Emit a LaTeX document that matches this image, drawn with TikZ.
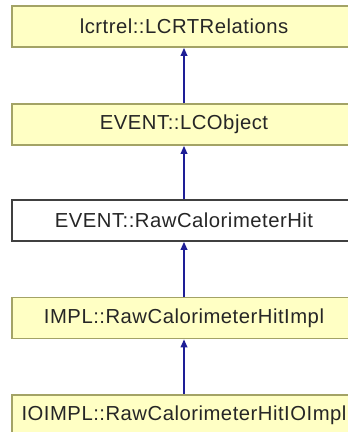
\documentclass[tikz,border=0pt]{standalone}
\usepackage{fontspec}
\setmainfont[LetterSpace=2.5]{Liberation Sans}
\usetikzlibrary{arrows.meta}
\definecolor{boxfill}{HTML}{FFFFC4}
\definecolor{boxline}{HTML}{A3A366}
\definecolor{arrowcol}{HTML}{1E1E96}
\tikzset{
  classbox/.style={draw=boxline, fill=boxfill, line width=1.3pt, minimum width=258pt, minimum height=30.75pt, inner sep=0pt, font=\fontsize{15.2}{18}\selectfont, text=black!85},
  mainbox/.style={classbox, draw=black!75, fill=white},
  inherit/.style={draw=arrowcol, line width=1.1pt, -{Triangle[length=6pt,width=5pt]}}
}
\begin{document}
\begin{tikzpicture}[x=0.75pt,y=-0.75pt]
\useasboundingbox (0,0) rectangle (347,432);
\node[classbox] (a) at (184,26.5) {lcrtrel::LCRTRelations};
\node[classbox] (b) at (184,124.5) {EVENT::LCObject};
\node[mainbox]  (c) at (184,220.5) {EVENT::RawCalorimeterHit};
\node[classbox] (d) at (184,318) {IMPL::RawCalorimeterHitImpl};
\node[classbox] (e) at (184,415.5) {IOIMPL::RawCalorimeterHitIOImpl};
\draw[inherit] (b.north) -- (a.south);
\draw[inherit] (c.north) -- (b.south);
\draw[inherit] (d.north) -- (c.south);
\draw[inherit] (e.north) -- (d.south);
\end{tikzpicture}
\end{document}
